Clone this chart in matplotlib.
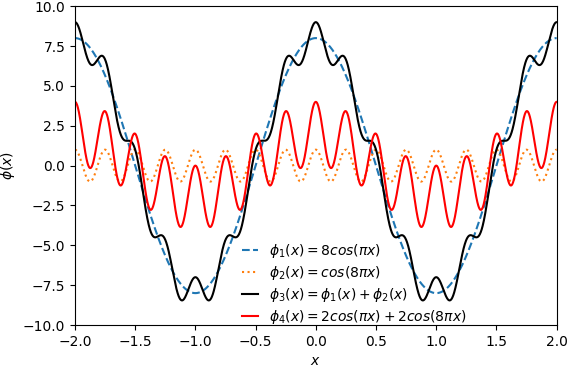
"""
Superposition of cosine waves.
"""
import numpy as np
import matplotlib
matplotlib.use('Agg')
import matplotlib.pyplot as plt

# legend formulas: amplitude pairs (cos(pi x), cos(8 pi x))
x_range = [-2.0, 2.0]
amp_phi1 = [8, 0]
amp_phi2 = [0, 1]
amp_phi3 = [8, 1]
amp_phi4 = [2, 2]
freqs = [1, 8]
labels = [
    r'$\phi_1(x) = 8cos(\pi x)$',
    r'$\phi_2(x) = cos(8\pi x)$',
    r'$\phi_3(x) = \phi_1(x) + \phi_2(x)$',
    r'$\phi_4(x) = 2cos(\pi x) + 2cos(8\pi x)$',
]

x = np.linspace(x_range[0], x_range[1], 2000)


def wave(amps):
    return sum(a * np.cos(f * np.pi * x) for a, f in zip(amps, freqs))


fig = plt.figure(figsize=(5.68, 3.66), dpi=100)
ax = fig.add_subplot(111)

ax.plot(x, wave(amp_phi1), '--', color='C0', label=labels[0])
ax.plot(x, wave(amp_phi2), ':', color='C1', label=labels[1])
ax.plot(x, wave(amp_phi3), '-', color='k', label=labels[2])
ax.plot(x, wave(amp_phi4), '-', color='r', label=labels[3])

ax.set_xlim(-2, 2)
ax.set_ylim(-10, 10)
ax.set_xlabel('$x$')
ax.set_ylabel(r'$\phi(x)$')
ax.legend(loc='lower center', bbox_to_anchor=(0.58, -0.025), frameon=False,
          borderaxespad=0.1, labelspacing=0.3, handlelength=1.2)

fig.subplots_adjust(left=0.132, right=0.98, top=0.983, bottom=0.112)
fig.savefig('out.png')
